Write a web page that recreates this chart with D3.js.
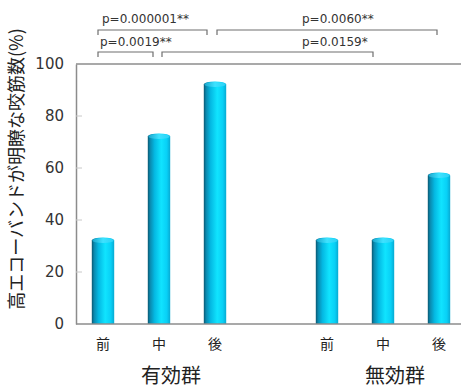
<!DOCTYPE html>
<html><head><meta charset="utf-8">
<script src="https://cdn.jsdelivr.net/npm/d3@7"></script>
<style>html,body{margin:0;padding:0;background:#fff;}svg{display:block;}</style>
</head><body>
<script>
// ---- data ----
const groups = ["有効群", "無効群"];
const timepoints = ["前", "中", "後"];
const effectiveValues = [33.3, 73.3, 93.3];
const ineffectiveValues = [33.3, 33.3, 58.3];
const yTicks = [0, 20, 40, 60, 80, 100];
const yTitle = "高エコーバンドが明瞭な咬筋数(%)";
const comparisons = [
  {a: "有効群|前", b: "有効群|後", label: "p=0.000001**"},
  {a: "有効群|後", b: "無効群|後", label: "p=0.0060**"},
  {a: "有効群|前", b: "有効群|中", label: "p=0.0019**"},
  {a: "有効群|中", b: "無効群|中", label: "p=0.0159*"}
];

const W = 461, H = 389;
const svg = d3.select("body").append("svg").attr("width", W).attr("height", H);

const bars = [];
groups.forEach((g, gi) => {
  const vals = gi === 0 ? effectiveValues : ineffectiveValues;
  timepoints.forEach((t, ti) => bars.push({key: g + "|" + t, group: g, time: t, value: vals[ti]}));
});
const slots = [bars[0].key, bars[1].key, bars[2].key, "_gap", bars[3].key, bars[4].key, bars[5].key];

const x = d3.scaleBand().domain(slots).range([75, 467]).paddingInner(0.6).paddingOuter(0.3);
const y = d3.scaleLinear().domain([0, 100]).range([324, 64]);
const cx = k => x(k) + x.bandwidth() / 2;

const axisColor = "#8c8c8c";
svg.append("line").attr("x1", 76).attr("x2", W).attr("y1", y(100)).attr("y2", y(100)).attr("stroke", axisColor).attr("stroke-width", 1.5);

const yAxis = svg.append("g").attr("transform", "translate(76,0)")
  .call(d3.axisLeft(y).tickValues(yTicks).tickSize(0).tickPadding(12));
yAxis.select(".domain").attr("stroke", axisColor).attr("stroke-width", 1.5);
yAxis.selectAll("text").attr("font-family", "'DejaVu Sans', Verdana, sans-serif").attr("font-size", 15).attr("fill", "#333");
svg.append("g").selectAll("line").data(yTicks.filter(d => d > 0 && d < 100)).join("line")
  .attr("x1", 76).attr("x2", 82).attr("y1", d => y(d)).attr("y2", d => y(d))
  .attr("stroke", "#c8c8c8").attr("stroke-width", 1);

const defs = svg.append("defs");
const grad = defs.append("linearGradient").attr("id", "cyl").attr("x1", 0).attr("x2", 1).attr("y1", 0).attr("y2", 0);
[[0, "#0a5670"], [0.1, "#0a88ad"], [0.3, "#04b8e2"], [0.6, "#10e4ff"], [0.85, "#08d0f6"], [1, "#07aad2"]]
  .forEach(([o, c]) => grad.append("stop").attr("offset", o).attr("stop-color", c));
const capGrad = defs.append("linearGradient").attr("id", "cap").attr("x1", 0).attr("x2", 1).attr("y1", 0).attr("y2", 0);
[[0, "#1aa6cc"], [0.5, "#3ee2ff"], [1, "#2ad2f6"]]
  .forEach(([o, c]) => capGrad.append("stop").attr("offset", o).attr("stop-color", c));

const bw = x.bandwidth();
const ry = 3;
const barG = svg.append("g");
barG.selectAll("path.bar").data(bars).join("path").attr("class", "bar")
  .attr("d", d => {
    const x0 = x(d.key), x1 = x0 + bw, yt = y(d.value) + ry, yb = y(0);
    return `M${x0},${yb} L${x0},${yt} A${bw / 2},${ry} 0 0 1 ${x1},${yt} L${x1},${yb} Z`;
  })
  .attr("fill", "url(#cyl)");
barG.selectAll("ellipse").data(bars).join("ellipse")
  .attr("cx", d => cx(d.key)).attr("cy", d => y(d.value) + ry).attr("rx", bw / 2 - 0.5).attr("ry", ry - 0.5)
  .attr("fill", "url(#cap)");

svg.append("line").attr("x1", 76).attr("x2", W).attr("y1", y(0)).attr("y2", y(0)).attr("stroke", axisColor).attr("stroke-width", 1.5);

svg.append("g").selectAll("text").data(bars).join("text")
  .attr("x", d => cx(d.key)).attr("y", 349).attr("text-anchor", "middle")
  .attr("font-family", "'Noto Sans CJK JP', sans-serif").attr("font-size", 14).attr("fill", "#222")
  .text(d => d.time);

svg.append("g").selectAll("text").data(groups).join("text")
  .attr("x", g => cx(g + "|中") + 12).attr("y", 383).attr("text-anchor", "middle")
  .attr("font-family", "'Noto Sans CJK JP', sans-serif").attr("font-size", 20).attr("fill", "#222")
  .text(g => g);

svg.append("text").attr("transform", "translate(23,169) rotate(-90)").attr("text-anchor", "middle")
  .attr("font-family", "'Noto Sans CJK JP', sans-serif").attr("font-size", 18).attr("fill", "#222")
  .text(yTitle);

const bracketLayout = [
  {dx1: -5, dx2: -8, yb: 30, ty: 23, tx: 102},
  {dx1: 2, dx2: -2, yb: 30, ty: 23, tx: 302},
  {dx1: -5, dx2: -6, yb: 52, ty: 46, tx: 100},
  {dx1: 3, dx2: -10, yb: 52, ty: 46, tx: 302}
];
const br = svg.append("g");
comparisons.forEach((c, i) => {
  const L = bracketLayout[i];
  const xa = cx(c.a) + L.dx1, xb = cx(c.b) + L.dx2;
  br.append("path").attr("d", `M${xa},${L.yb + 5} L${xa},${L.yb} L${xb},${L.yb} L${xb},${L.yb + 5}`)
    .attr("fill", "none").attr("stroke", "#6e6e6e").attr("stroke-width", 1.2);
  br.append("text").attr("x", L.tx).attr("y", L.ty)
    .attr("font-family", "'DejaVu Sans', Verdana, sans-serif").attr("font-size", 12).attr("fill", "#333")
    .text(c.label);
});
</script>
</body></html>
